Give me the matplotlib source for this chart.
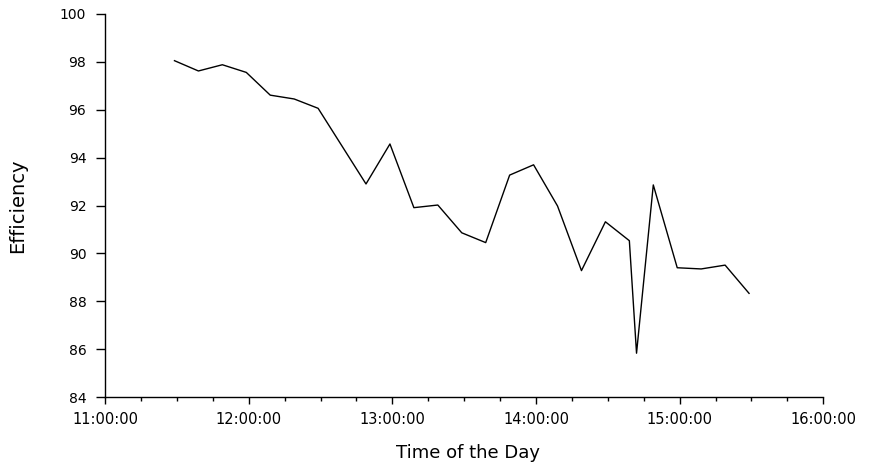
import matplotlib
matplotlib.use('Agg')
import matplotlib.pyplot as plt
import matplotlib.dates as mdates
import pandas as pd

# Readings taken through the day (roughly every 10 min, one extra at 14:42)
times = ['11:29', '11:39', '11:49', '11:59', '12:09', '12:19', '12:29',
         '12:39', '12:49', '12:59', '13:09', '13:19', '13:29', '13:39',
         '13:49', '13:59', '14:09', '14:19', '14:29', '14:39', '14:42',
         '14:49', '14:59', '15:09', '15:19', '15:29']
efficiency = [98.05, 97.62, 97.88, 97.56, 96.61, 96.45, 96.06, 94.48,
              92.90, 94.57, 91.91, 92.02, 90.86, 90.45, 93.27, 93.70,
              91.98, 89.28, 91.32, 90.53, 85.83, 92.86, 89.40, 89.35,
              89.51, 88.33]

DAY = '2000-01-01 '
t = pd.to_datetime([DAY + s for s in times])

plt.rcParams['font.family'] = ['DejaVu Sans']

fig = plt.figure(figsize=(8.71, 4.65), dpi=100)
ax = fig.add_axes([0.1206, 0.1462, 0.8246, 0.8237])

ax.plot(t, efficiency, color='black', lw=1.0)

ax.set_xlim(pd.Timestamp(DAY + '11:00'), pd.Timestamp(DAY + '16:00'))
ax.set_ylim(84, 100)
ax.set_yticks(range(84, 101, 2))

ax.xaxis.set_major_locator(mdates.HourLocator())
ax.xaxis.set_minor_locator(mdates.MinuteLocator(byminute=[15, 30, 45]))
ax.xaxis.set_major_formatter(mdates.DateFormatter('%H:%M:%S'))

for side in ('top', 'right'):
    ax.spines[side].set_visible(False)
for side in ('left', 'bottom'):
    ax.spines[side].set_linewidth(1.0)

ax.tick_params(axis='y', which='major', direction='out', length=6.5,
               width=1.0, labelsize=10, pad=7, colors='black')
ax.tick_params(axis='x', which='major', direction='out', length=5,
               width=1.0, labelsize=10.5, pad=6, colors='black')
ax.tick_params(axis='x', which='minor', direction='out', length=3, width=1.0)

ax.set_xlabel('Time of the Day', fontsize=13)
ax.xaxis.set_label_coords(0.5056, -0.1227)
ax.set_ylabel('Efficiency', fontsize=14)
ax.yaxis.set_label_coords(-0.1086, 0.5)

fig.savefig('out.png', dpi=100, facecolor='white')
